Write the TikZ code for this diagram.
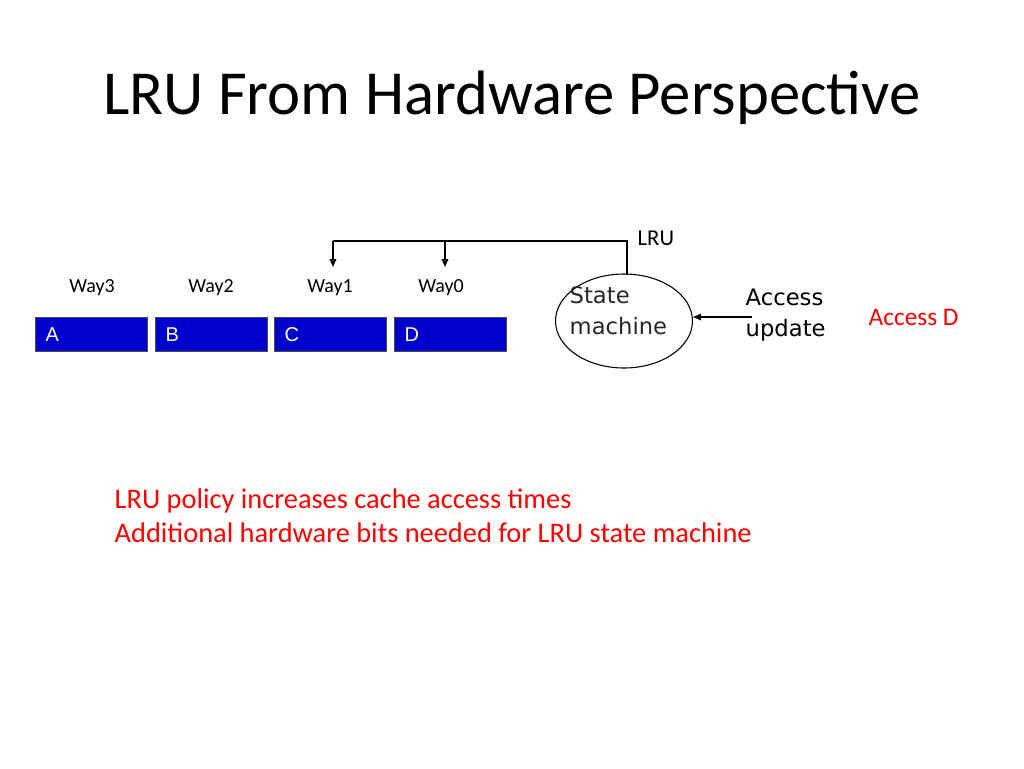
\documentclass[tikz,border=0pt]{standalone}
\usepackage{fontspec}
\setmainfont{Carlito}
\newfontfamily\arialf{Liberation Sans}
\newfontfamily\verd{DejaVu Sans}
\usetikzlibrary{shapes.geometric,arrows.meta}
\begin{document}
\begin{tikzpicture}[x=0.75pt,y=-0.75pt,
  cell/.style={draw=black!70,fill=blue!80!black,minimum width=112*0.75pt,minimum height=34*0.75pt,inner sep=0pt,anchor=north west},
  celltxt/.style={text=white,font=\arialf\fontsize{15}{18}\selectfont,anchor=west},
  way/.style={font=\fontsize{15}{18}\selectfont},
  arr/.style={-{Triangle[length=6pt,width=5pt]},line width=0.8pt}]
\useasboundingbox (0,0) rectangle (1024,768);
\node[font=\fontsize{47}{56}\selectfont] (title) at (512,98) {LRU From Hardware Perspective};
\foreach \n/\x/\l/\w/\wx in {a/35/A/Way3/92,b/155/B/Way2/211,c/274/C/Way1/330,d/394/D/Way0/441}{
  \node[cell] (\n) at (\x,317) {};
  \node[celltxt] (\n t) at (\x+6,335) {\l};
  \node[way] (\n w) at (\wx,288) {\w};
}
\node[draw,ellipse,minimum width=137*0.75pt,minimum height=94*0.75pt,line width=0.8pt] (sm) at (624,321) {};
\node[font=\verd\fontsize{17}{23}\selectfont,align=left,text=black!85,anchor=west] (smt) at (565,311) {State\\machine};
\coordinate (top) at (627,274.5);
\coordinate (c1) at (627,241);
\coordinate (k1) at (445,241);
\coordinate (k0) at (333,241);
\coordinate (t1) at (445,267);
\coordinate (t0) at (333,267);
\draw[line width=0.8pt] (top) -- (c1) -- (k0);
\draw[arr] (k0) -- (t0);
\draw[arr] (k1) -- (t1);
\node[font=\fontsize{17}{20}\selectfont,anchor=west] (lru) at (633,238) {LRU};
\node[font=\verd\fontsize{17}{23}\selectfont,align=left,anchor=west] (acc) at (741,315) {Access\\update};
\coordinate (as) at (752,317);
\draw[arr] (as) -- (sm.east |- as);
\node[font=\fontsize{19}{22}\selectfont,text=red,anchor=west] (ad) at (864,317) {Access D};
\node[font=\fontsize{21.3}{25.5}\selectfont,text=red,align=left,anchor=north west] (notes) at (110,484) {LRU policy increases cache access times\\Additional hardware bits needed for LRU state machine};
\end{tikzpicture}
\end{document}
